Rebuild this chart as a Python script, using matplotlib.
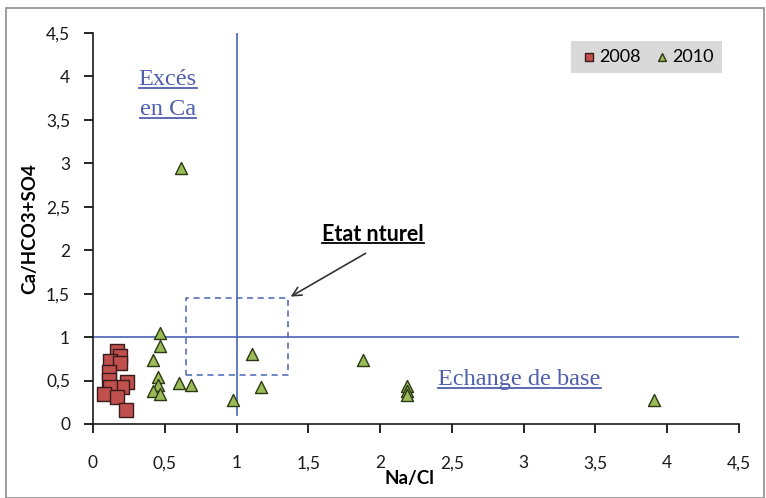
import matplotlib
matplotlib.use('Agg')
import matplotlib.pyplot as plt
from matplotlib.lines import Line2D
from matplotlib.patches import Rectangle
from matplotlib.ticker import FuncFormatter

# Na/Cl and Ca/(HCO3+SO4) ratios
na_cl_2008 = [0.165, 0.19, 0.12, 0.19, 0.11, 0.11, 0.24, 0.20, 0.12, 0.08, 0.165, 0.23]
ca_2008 = [0.84, 0.78, 0.72, 0.70, 0.60, 0.51, 0.48, 0.43, 0.43, 0.34, 0.31, 0.16]

na_cl_2010 = [0.47, 0.465, 0.42, 0.455, 0.45, 0.415, 0.465, 0.60, 0.68, 0.975,
              1.11, 1.17, 1.88, 2.19, 2.19, 2.19, 3.91, 0.61]
ca_2010 = [1.05, 0.90, 0.74, 0.54, 0.45, 0.38, 0.35, 0.47, 0.45, 0.28,
           0.80, 0.43, 0.74, 0.44, 0.38, 0.33, 0.28, 2.95]

ticks = [0, 0.5, 1, 1.5, 2, 2.5, 3, 3.5, 4, 4.5]
box_x = [0.65, 1.36]
box_y = [0.56, 1.45]

line_blue = '#4a63b5'
text_blue = '#4f5fae'


def comma(v, pos):
    s = ('%g' % v)
    return s.replace('.', ',')


def underline(fig, txt, color, lw=1.0):
    fig.canvas.draw()
    bb = txt.get_window_extent().transformed(fig.transFigure.inverted())
    y = bb.y0 + 0.004
    fig.add_artist(Line2D([bb.x0, bb.x1], [y, y], color=color, lw=lw,
                          transform=fig.transFigure))


fig = plt.figure(figsize=(7.66, 4.98), dpi=100)
fig.patches.append(Rectangle((0.008, 0.0), 0.99, 0.983, transform=fig.transFigure,
                             fill=False, edgecolor='#8c8c8c', lw=1.2))
ax = fig.add_axes([0.1214, 0.1486, 0.8434, 0.7851])

ax.scatter(na_cl_2008, ca_2008, marker='s', s=95, color='#c0504d',
           edgecolors='#3a1a1a', linewidths=1.0, zorder=3, label='2008')
ax.scatter(na_cl_2010, ca_2010, marker='^', s=75, color='#9bbb59',
           edgecolors='#2b3a14', linewidths=1.0, zorder=3, label='2010')

ax.plot([0, 4.5], [1, 1], color=line_blue, lw=1.2, zorder=2)
ax.plot([1, 1], [0.1, 4.5], color=line_blue, lw=1.2, zorder=2)
ax.plot([box_x[0], box_x[1], box_x[1], box_x[0], box_x[0]],
        [box_y[0], box_y[0], box_y[1], box_y[1], box_y[0]],
        color=line_blue, lw=1.1, ls=(0, (4, 3)), zorder=2)

ax.set_xlim(0, 4.5)
ax.set_ylim(0, 4.5)
ax.set_xticks(ticks)
ax.set_yticks(ticks)
ax.xaxis.set_major_formatter(FuncFormatter(comma))
ax.yaxis.set_major_formatter(FuncFormatter(comma))
ax.spines['top'].set_visible(False)
ax.spines['right'].set_visible(False)
for sp in ['left', 'bottom']:
    ax.spines[sp].set_color('#1a1a1a')
    ax.spines[sp].set_linewidth(1.2)
ax.tick_params(direction='out', length=6.5, width=1.2, labelsize=12.5,
               labelcolor='#1a1a1a')
ax.tick_params(axis='x', pad=16)
ax.tick_params(axis='y', pad=10)
for lab in ax.get_xticklabels() + ax.get_yticklabels():
    lab.set_family('Lato')

ax.set_xlabel('Na/Cl', fontsize=13.5, fontweight='bold', family='Lato')
ax.set_ylabel('Ca/HCO3+SO4', fontsize=13.5, fontweight='bold', family='Lato')
ax.xaxis.set_label_coords(0.49, -0.118)
ax.yaxis.set_label_coords(-0.085, 0.50)

leg = ax.legend(loc='upper right', bbox_to_anchor=(0.974, 0.98), ncol=2, frameon=True,
                prop={'family': 'Lato', 'size': 13}, borderaxespad=0,
                handletextpad=0.05, columnspacing=0.6, markerscale=0.65,
                borderpad=0.45, handlelength=1.1)
leg.get_frame().set_facecolor('#d9d9d9')
leg.get_frame().set_edgecolor('none')
leg.get_frame().set_alpha(1)
leg.get_frame().set_boxstyle('square', pad=0)

t1 = ax.text(0.52, 3.96, 'Excés', fontsize=17.5, color=text_blue, family='Liberation Serif',
             ha='center', va='center')
t2 = ax.text(0.52, 3.62, 'en Ca', fontsize=17.5, color=text_blue, family='Liberation Serif',
             ha='center', va='center')
t3 = ax.text(2.97, 0.51, 'Echange de base', fontsize=17.5, color=text_blue,
             family='Liberation Serif', ha='center', va='center')
t4 = ax.text(1.95, 2.18, 'Etat nturel', fontsize=15.5, fontweight='bold', color='black',
             family='Lato', ha='center', va='center')
ax.annotate('', xy=(1.36, 1.45), xytext=(1.915, 1.98),
            arrowprops=dict(arrowstyle='->', color='#333333', lw=1.2,
                            mutation_scale=16))

for t, c in [(t1, text_blue), (t2, text_blue), (t3, text_blue), (t4, 'black')]:
    underline(fig, t, c, lw=1.3)

fig.savefig('out.png', dpi=100)
